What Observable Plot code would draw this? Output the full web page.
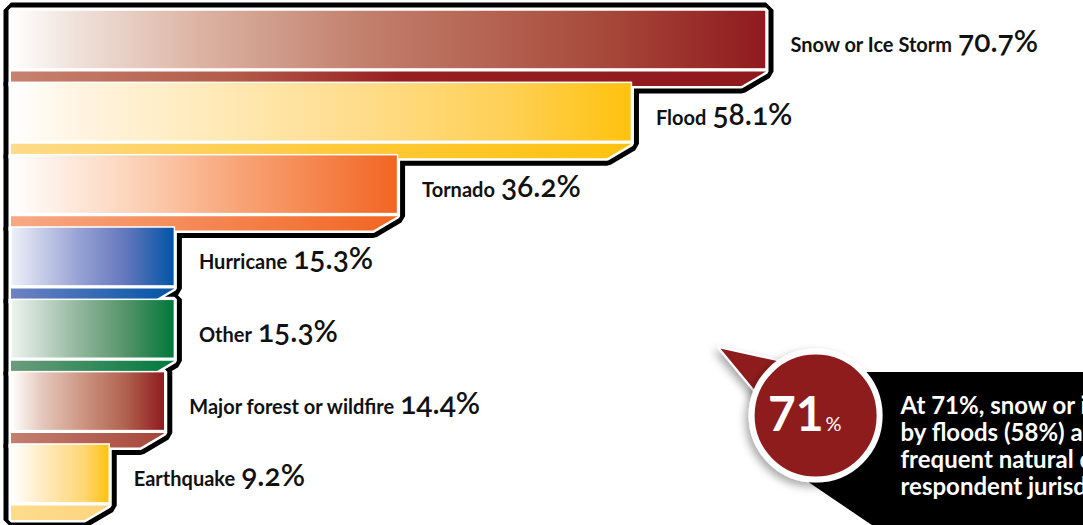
<!DOCTYPE html>
<html><head><meta charset="utf-8">
<script src="https://cdn.jsdelivr.net/npm/d3@7"></script>
<script src="https://cdn.jsdelivr.net/npm/@observablehq/plot@0.6"></script>
<style>
html,body{margin:0;padding:0;background:#fff;overflow:hidden;}
#chart svg{display:block;overflow:hidden;}
</style></head><body><div id="chart"></div>
<script>
// ---- data ----
const categories = ["Snow or Ice Storm", "Flood", "Tornado", "Hurricane", "Other", "Major forest or wildfire", "Earthquake"];
const shares = [70.7, 58.1, 36.2, 15.3, 15.3, 14.4, 9.2];
const calloutValue = 71;
const calloutLines = [
  "At 71%, snow or ice storms, followed",
  "by floods (58%) are the most",
  "frequent natural disasters among",
  "respondent jurisdictions."
];

// ---- styles ----
const gradientKeys = ["snow", "flood", "tornado", "hurricane", "other", "forest", "quake"];
const palette = {
  snow: {main: [[0,"#ffffff"],[0.08,"#f0e3dc"],[0.25,"#dcb3a3"],[0.47,"#c27f6c"],[0.78,"#a84a3b"],[1,"#8f1a1e"]],
         strip: [[0,"#c7826f"],[0.3,"#b25a48"],[0.52,"#961d20"],[1,"#8f1a1e"]]},
  flood: {main: [[0,"#ffffff"],[0.1,"#fff5e3"],[0.3,"#ffebbc"],[0.55,"#ffdd8e"],[0.8,"#ffd055"],[1,"#ffc20e"]],
          strip: [[0,"#fedb8a"],[0.5,"#ffca3c"],[1,"#ffc20e"]]},
  tornado: {main: [[0,"#ffffff"],[0.3,"#fcd5bc"],[0.6,"#f8a274"],[1,"#f26522"]],
            strip: [[0,"#f7a983"],[1,"#f26522"]]},
  hurricane: {main: [[0,"#eef0f9"],[0.4,"#9aa5d5"],[0.7,"#6477bd"],[1,"#0054a6"]],
              strip: [[0,"#6f82c2"],[1,"#0054a6"]]},
  other: {main: [[0,"#eef4ef"],[0.4,"#95b8a0"],[0.7,"#559468"],[1,"#00773a"]],
          strip: [[0,"#6c9c7c"],[1,"#007a3d"]]},
  forest: {main: [[0,"#ffffff"],[0.2,"#e4c8bc"],[0.45,"#cf9885"],[0.75,"#b0604e"],[1,"#8f1a1e"]],
           strip: [[0,"#c58070"],[1,"#a4463a"]]},
  quake: {main: [[0,"#ffffff"],[0.4,"#ffe7b3"],[0.75,"#ffd672"],[1,"#ffc20e"]],
          strip: [[0,"#fedc8c"],[1,"#fdd47e"]]}
};

const MAIN_END = 0.815, STRIP_TOP = 0.85, STRIP_END = 1.05, BEVEL = 2.3;

const rows = categories.map((name, i) => ({name, value: shares[i], i, key: gradientKeys[i]}));
const outline = rows.flatMap(d => [
  {name: d.name, y: d.i, x: d.value},
  {name: d.name, y: d.i + STRIP_TOP, x: d.value},
  {name: d.name, y: d.i + STRIP_END, x: d.value - BEVEL}
]);
const stripPts = rows.flatMap(d => [
  {name: d.name, key: d.key, y: d.i + STRIP_TOP, x: d.value},
  {name: d.name, key: d.key, y: d.i + STRIP_END, x: d.value - BEVEL}
]);

// callout geometry (in data units of the chart scales); polygons traced as areas
const cx = 75.3, cy = 5.6;
const boxPts = [
  {x1: 78.6, y1: 5.005, x2: 101, y2: 5.005},
  {x1: 72.7, y1: 6.33, x2: 101, y2: 7.2},
  {x1: 81.4, y1: 7.2, x2: 81.4, y2: 7.2}
];
const pointerPts = [
  {x1: 66.2, y1: 4.66, x2: 66.2, y2: 4.66},
  {x1: 74.5, y1: 4.93, x2: 72.0, y2: 5.7}
];

const FONT = "Lato, 'Open Sans', sans-serif";

const svg = Plot.plot({
  width: 1083,
  height: 525,
  x: {domain: [0, d3.max(shares)], range: [11, 766], axis: null},
  y: {domain: [0, categories.length], range: [10, 516.3], axis: null},
  color: {type: "identity"},
  style: {fontFamily: FONT, background: "white", overflow: "hidden"},
  marks: [
    Plot.areaX(outline, {y: "y", x1: 0, x2: "x", z: "name", fill: "black", stroke: "black", strokeWidth: 15, strokeLinejoin: "miter"}),
    Plot.areaX(outline, {y: "y", x1: 0, x2: "x", z: "name", fill: "white", stroke: "white", strokeWidth: 5, strokeLinejoin: "miter"}),
    Plot.areaX(stripPts, {y: "y", x1: 0, x2: "x", z: "name", fill: d => `url(#${d.key}-strip)`}),
    Plot.rect(rows, {x1: 0, x2: "value", y1: "i", y2: d => d.i + MAIN_END, fill: d => `url(#${d.key}-main)`, stroke: "white", strokeWidth: 1.5}),
    Plot.text(rows, {x: "value", y: d => d.i + 0.49, text: "name", dx: 24, textAnchor: "start", fontSize: 20, fontWeight: 700, fill: "#111", fontFamily: FONT, ariaLabel: () => "bar-label"}),
    // callout
    Plot.area(boxPts, {x1: "x1", y1: "y1", x2: "x2", y2: "y2", fill: "black"}),
    Plot.area(pointerPts, {x1: "x1", y1: "y1", x2: "x2", y2: "y2", fill: "#8f1a1e", stroke: "white", strokeWidth: 2, strokeLinejoin: "miter", ariaLabel: () => "callout-shape"}),
    Plot.dot([calloutValue], {x: cx, y: cy, r: 64, fill: "#8f1a1e", stroke: "white", strokeWidth: 6, ariaLabel: () => "callout-shape"}),
    Plot.text([calloutValue], {x: cx, y: cy, text: d => `${d}`, dx: 8, dy: 15, textAnchor: "end", lineAnchor: "bottom", fontSize: 48, fontWeight: 700, fill: "white", fontFamily: FONT}),
    Plot.text([calloutValue], {x: cx, y: cy, text: () => "%", dx: 10, dy: 15, textAnchor: "start", lineAnchor: "bottom", fontSize: 20, fontWeight: 400, fill: "white", fontFamily: FONT}),
    Plot.text([calloutLines.join("\n")], {x: 83.25, y: 6.705, text: d => d, textAnchor: "start", lineAnchor: "bottom", lineHeight: 1.13, fontSize: 24, fontWeight: 700, fill: "white", fontFamily: FONT})
  ]
});

// gradients & shadow
const defs = d3.select(svg).insert("defs", ":first-child");
for (const key of gradientKeys) {
  for (const part of ["main", "strip"]) {
    const g = defs.append("linearGradient").attr("id", `${key}-${part}`)
      .attr("x1", 0).attr("x2", 1).attr("y1", 0).attr("y2", 0);
    for (const [o, c] of palette[key][part]) g.append("stop").attr("offset", o).attr("stop-color", c);
  }
}
const f = defs.append("filter").attr("id", "shadow").attr("x", "-30%").attr("y", "-30%").attr("width", "160%").attr("height", "160%");
f.append("feDropShadow").attr("dx", -3).attr("dy", 4).attr("stdDeviation", 4).attr("flood-color", "#000").attr("flood-opacity", 0.35);
d3.select(svg).selectAll('[aria-label="callout-shape"]').attr("filter", "url(#shadow)");

// value part of each label
d3.select(svg).selectAll('text[aria-label="bar-label"]').each(function(_, j) {
  d3.select(this).append("tspan").attr("dx", 6).attr("font-size", 30).attr("font-weight", 600)
    .style("font-variant-numeric", "oldstyle-nums").text(`${shares[j]}%`);
});

document.getElementById("chart").appendChild(svg);
</script>
</body></html>
